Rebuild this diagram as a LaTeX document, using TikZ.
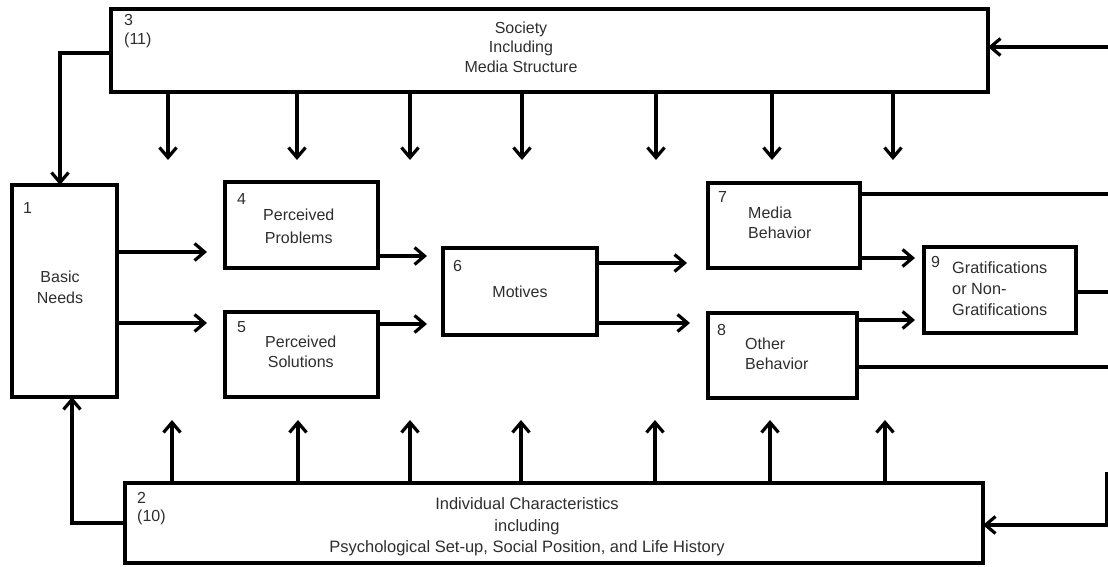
\documentclass[tikz,border=0pt]{standalone}
\usepackage{fontspec}
\setmainfont{Liberation Sans}
\usetikzlibrary{arrows.meta}
\definecolor{txt}{HTML}{2E2E2E}
\begin{document}
\begin{tikzpicture}[x=1pt,y=-1pt,
  box/.style={draw, line width=3.4pt, anchor=north west, inner sep=0pt, outer sep=0pt},
  arr/.style={line width=3.2pt, -{Straight Barb[length=10pt,width=17pt]}},
  ln/.style={line width=3.2pt},
  lab/.style={text=txt, font=\fontsize{16}{20}\selectfont, inner sep=0pt, align=left},
  num/.style={text=txt, font=\fontsize{16}{19}\selectfont, inner sep=0pt, align=left, anchor=west},
]
\useasboundingbox (0,0) rectangle (1108,567);
% boxes
\node[box, minimum width=877pt, minimum height=83pt] (b3) at (111,9) {};
\node[box, minimum width=105pt, minimum height=212pt] (b1) at (12,185) {};
\node[box, minimum width=153pt, minimum height=86pt] (b4) at (225,182) {};
\node[box, minimum width=153pt, minimum height=85pt] (b5) at (225,312) {};
\node[box, minimum width=154pt, minimum height=87pt] (b6) at (443,248) {};
\node[box, minimum width=152pt, minimum height=85pt] (b7) at (708,183) {};
\node[box, minimum width=149pt, minimum height=85pt] (b8) at (708,313) {};
\node[box, minimum width=152pt, minimum height=86pt] (b9) at (924,247) {};
\node[box, minimum width=858pt, minimum height=80pt] (b2) at (125,483) {};
% texts
\node[num] (n3) at (124,31) {3\\(11)};
\node[lab, align=center, font=\fontsize{16}{19.5}\selectfont] (t3) at (521,47) {Society\\Including\\Media Structure};
\node[num, font=\fontsize{16}{18}\selectfont] (n2) at (137,509) {2\\(10)};
\node[lab, align=center, font=\fontsize{16.5}{21.5}\selectfont] (t2) at (527,527) {Individual Characteristics\\including\\Psychological Set-up, Social Position, and Life History};
\node[num] (n1) at (23,208) {1};
\node[lab, align=center, font=\fontsize{16}{21}\selectfont] (t1) at (60,287) {Basic\\Needs};
\node[num] (n4) at (237,199) {4};
\node[lab, anchor=west, align=center, font=\fontsize{16}{23}\selectfont] (t4) at (263,226) {Perceived\\Problems};
\node[num] (n5) at (237,327) {5};
\node[lab, anchor=west, align=center] (t5) at (265,352) {Perceived\\Solutions};
\node[num] (n6) at (453,266) {6};
\node[lab] (t6) at (520,292) {Motives};
\node[num] (n7) at (718,197) {7};
\node[lab, anchor=west] (t7) at (748,223) {Media\\Behavior};
\node[num] (n8) at (717,330) {8};
\node[lab, anchor=west] (t8) at (745,354) {Other\\Behavior};
\node[num] (n9) at (931,262) {9};
\node[lab, anchor=west, font=\fontsize{16.3}{21}\selectfont] (t9) at (952,289) {Gratifications\\or Non-\\Gratifications};
% feedback to 1
\draw[arr] (b3.west |- 0,53) -| ([xshift=-4.5pt]b1.north);
\draw[arr] (b2.west |- 0,523) -| ([xshift=7.5pt]b1.south);
% horizontal flow
\draw[arr, shorten >=18pt] (b1.east |- 0,252) -- (b4.west |- 0,252);
\draw[arr, shorten >=18pt] (b1.east |- 0,323) -- (b5.west |- 0,323);
\draw[arr, shorten >=16pt] (b4.east |- 0,256) -- (b6.west |- 0,256);
\draw[arr, shorten >=16pt] (b5.east |- 0,324) -- (b6.west |- 0,324);
\draw[arr, shorten >=21pt] (b6.east |- 0,263) -- (b7.west |- 0,263);
\draw[arr, shorten >=18pt] (b6.east |- 0,323) -- (b8.west |- 0,323);
\draw[arr, shorten >=9pt] (b7.east |- 0,258) -- (b9.west |- 0,258);
\draw[arr, shorten >=9pt] (b8.east |- 0,320) -- (b9.west |- 0,320);
% lines to the right edge
\coordinate (r7) at (1108,194);
\coordinate (r9) at (1108,292);
\coordinate (r8) at (1108,367);
\draw[ln] (b7.east |- r7) -- (r7);
\draw[ln] (b9.east |- r9) -- (r9);
\draw[ln] (b8.east |- r8) -- (r8);
\coordinate (rt) at (1108,47);
\coordinate (rv) at (1106.5,472);
\coordinate (rb) at (1106.5,525);
\draw[arr] (rt) -- (b3.east |- rt);
\draw[arr] (rv) -- (rb) -- (b2.east |- rb);
% arrows down from society
\foreach \x [count=\i] in {168,297,410,522,656,772,893} {
  \coordinate (d\i) at (\x,160);
  \draw[arr] (b3.south -| d\i) -- (d\i);
}
% arrows up from individual characteristics
\foreach \x [count=\i] in {172,298,410,521,655,770,885} {
  \coordinate (u\i) at (\x,420);
  \draw[arr] (b2.north -| u\i) -- (u\i);
}
\end{tikzpicture}
\end{document}
